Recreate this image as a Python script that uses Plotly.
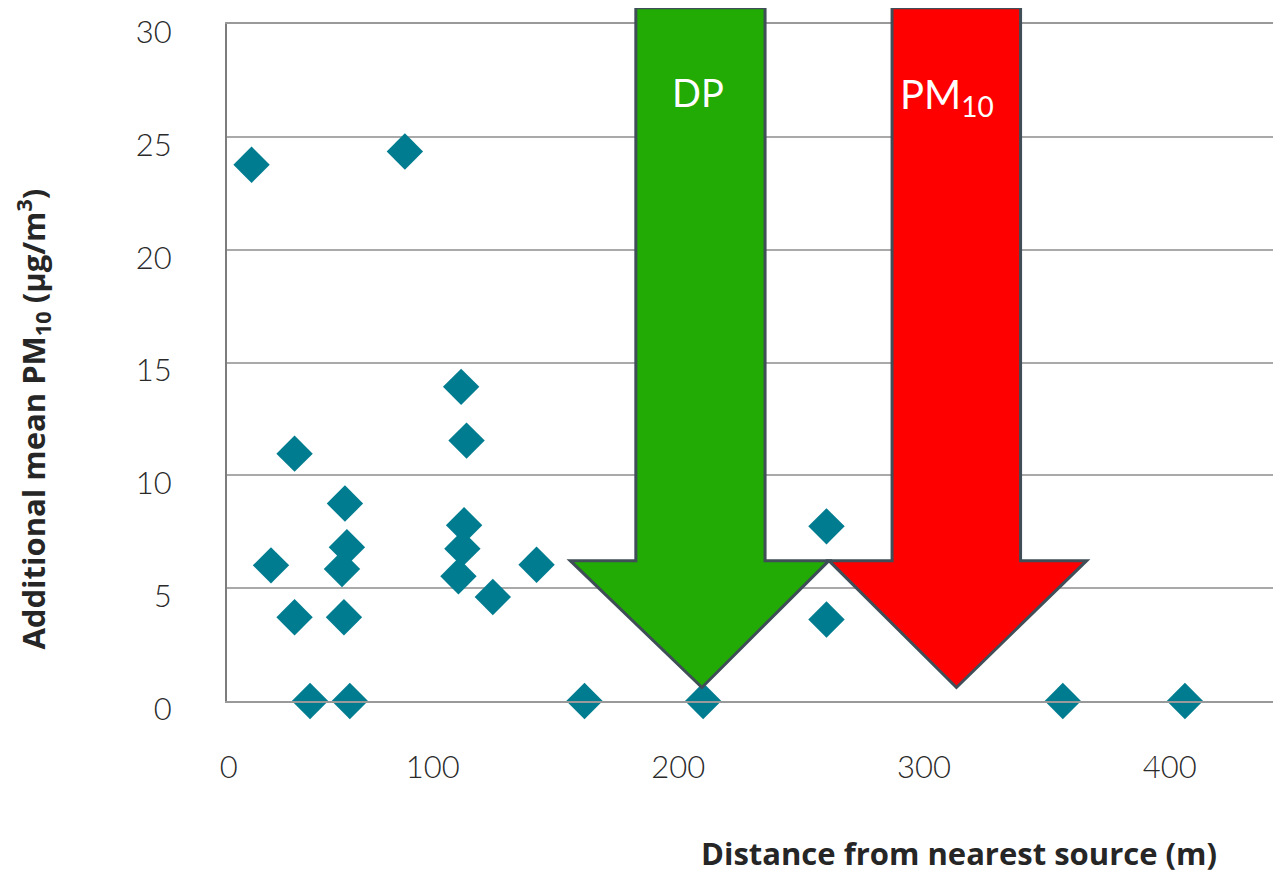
import plotly.graph_objects as go

# ---- data ----
distance_m = [26.3, 88.7, 43.8, 34.2, 43.8, 50.1, 64.3, 65.1, 63.1, 63.9, 66.3,
              111.6, 113.8, 112.8, 112.1, 110.5, 124.5, 142.3, 161.8, 210.1,
              260.3, 260.3, 356.5, 406.2]
pm10_add = [23.76, 24.35, 10.96, 6.01, 3.71, 0.0, 8.75, 6.81, 5.85, 3.71, 0.0,
            13.92, 11.54, 7.79, 6.75, 5.53, 4.61, 6.04, 0.0, 0.0,
            7.74, 3.61, 0.0, 0.0]
x_tick_vals = [17, 100, 200, 300, 400]
x_tick_text = ["0", "100", "200", "300", "400"]
y_tick_vals = [0, 5, 10, 15, 20, 25, 30]

# ---- layout constants ----
X_RANGE = [16.3, 445.3]
Y_RANGE = [0, 30]
MARKER = "#007c90"
GRID = "#a9a9a9"
AXIS = "#7d7d7d"
OUTLINE = "#3f4e57"
TICKFONT = dict(family="Lato", size=31, color="#2a2a2a", weight=300)
TITLEFONT = dict(family="Open Sans", size=31, color="#262626", weight="bold")


def px(x):
    return (x - X_RANGE[0]) / (X_RANGE[1] - X_RANGE[0])


def py(y):
    return (y - Y_RANGE[0]) / (Y_RANGE[1] - Y_RANGE[0])


def arrow_path(shaft_l, shaft_r, head_l, head_r, tip_x, top, base, tip_y):
    pts = [(shaft_l, top), (shaft_r, top), (shaft_r, base), (head_r, base),
           (tip_x, tip_y), (head_l, base), (shaft_l, base)]
    return "M " + " L ".join(f"{px(a):.5f},{py(b):.5f}" for a, b in pts) + " Z"


fig = go.Figure()
fig.add_trace(go.Scatter(
    x=distance_m, y=pm10_add, mode="markers",
    marker=dict(symbol="diamond", size=28, color=MARKER, line=dict(width=0)),
    cliponaxis=False, showlegend=False,
))

# arrows (decorations, data units converted to paper)
fig.add_shape(type="path", xref="paper", yref="paper", layer="above",
              path=arrow_path(182.7, 235.3, 156.0, 261.3, 209.6, 30.72, 6.22, 0.6),
              fillcolor="#22aa05", line=dict(color=OUTLINE, width=3))
fig.add_shape(type="path", xref="paper", yref="paper", layer="above",
              path=arrow_path(287.0, 339.3, 261.3, 366.2, 313.2, 30.72, 6.22, 0.6),
              fillcolor="#ff0000", line=dict(color=OUTLINE, width=3))

fig.add_annotation(x=208, y=27.0, xref="x", yref="y", text="DP", showarrow=False,
                   xanchor="center", yanchor="middle",
                   font=dict(family="Lato", size=38, color="white"))
fig.add_annotation(x=309.5, y=26.8, xref="x", yref="y", text="PM<sub>10</sub>",
                   showarrow=False, xanchor="center", yanchor="middle",
                   font=dict(family="Lato", size=40, color="white"))

fig.add_annotation(x=-0.184, y=0.4158, xref="paper", yref="paper",
                   text="Additional mean PM<sub>10</sub> (µg/m<sup>3</sup>)",
                   textangle=-90, showarrow=False, xanchor="center",
                   yanchor="middle", font=TITLEFONT)
fig.add_annotation(x=0.6945, y=-0.2245, xref="paper", yref="paper",
                   text="Distance from nearest source (m)", showarrow=False,
                   xanchor="center", yanchor="middle", font=TITLEFONT)

fig.update_xaxes(range=X_RANGE, tickvals=x_tick_vals, ticktext=x_tick_text,
                 showgrid=False, zeroline=False, showline=True, mirror=True,
                 linecolor="#999999", linewidth=2, ticks="",
                 ticklabelstandoff=38, tickfont=TICKFONT,
                 ticklabeloverflow="allow", automargin=False)
fig.update_yaxes(range=Y_RANGE, tickvals=y_tick_vals, showgrid=True,
                 gridcolor=GRID, gridwidth=2, zeroline=False, showline=True,
                 linecolor=AXIS, linewidth=2, ticks="", ticklabelstandoff=47,
                 ticklabelshift=8, tickfont=TICKFONT,
                 ticklabeloverflow="allow", automargin=False)

fig.update_layout(width=1281, height=873, plot_bgcolor="white",
                  paper_bgcolor="white",
                  margin=dict(l=219, r=8, t=16, b=180, autoexpand=False))

fig.write_html("out.html")
